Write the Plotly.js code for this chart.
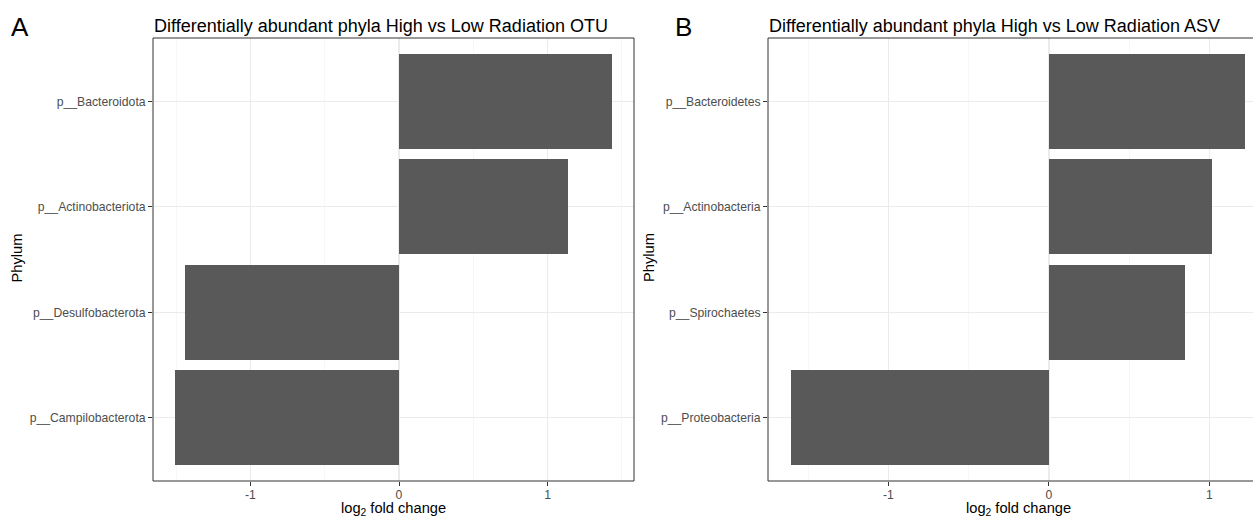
<!DOCTYPE html>
<html>
<head>
<meta charset="utf-8">
<script src="https://cdn.plot.ly/plotly-3.0.1.min.js"></script>
<style>html,body{margin:0;padding:0;overflow:hidden;background:#fff;}</style>
</head>
<body>
<div id="chart" style="width:1253px;height:518px;"></div>
<script>
// Panel A (OTU)
const phylaA = ['p__Campilobacterota', 'p__Desulfobacterota', 'p__Actinobacteriota', 'p__Bacteroidota'];
const lfcA = [-1.508, -1.441, 1.138, 1.434];
// Panel B (ASV)
const phylaB = ['p__Proteobacteria', 'p__Spirochaetes', 'p__Actinobacteria', 'p__Bacteroidetes'];
const lfcB = [-1.609, 0.847, 1.016, 1.221];
const xTicks = [-1, 0, 1];
const titleA = 'Differentially abundant phyla High vs Low Radiation OTU';
const titleB = 'Differentially abundant phyla High vs Low Radiation ASV';

const W = 1253, H = 518;
const FONT = 'Liberation Sans, Arial, sans-serif';
const px = v => v / W;
const py = v => 1 - v / H;

const barColor = '#595959';
const traces = [
  {type: 'bar', orientation: 'h', x: lfcA, y: phylaA, xaxis: 'x', yaxis: 'y',
   width: 0.9, marker: {color: barColor, line: {width: 0}}, hoverinfo: 'x+y'},
  {type: 'bar', orientation: 'h', x: lfcB, y: phylaB, xaxis: 'x2', yaxis: 'y2',
   width: 0.9, marker: {color: barColor, line: {width: 0}}, hoverinfo: 'x+y'}
];

function xax(domain, range) {
  return {
    domain: domain, range: range, tickvals: xTicks, ticktext: xTicks.map(String),
    showgrid: true, gridcolor: '#EBEBEB', gridwidth: 1.1, zeroline: false,
    minor: {dtick: 0.5, tick0: 0, showgrid: true, gridcolor: '#F2F2F2', gridwidth: 0.6, ticks: ''},
    ticks: 'outside', ticklen: 4, tickcolor: '#333333', tickwidth: 1,
    ticklabelstandoff: -2,
    tickfont: {family: FONT, size: 12.2, color: '#4D4D4D'},
    showline: false, fixedrange: true
  };
}
function yax(domain, cats, anchor) {
  return {
    domain: domain, type: 'category', categoryorder: 'array', categoryarray: cats,
    range: [-0.6, 3.6], anchor: anchor,
    showgrid: true, gridcolor: '#EBEBEB', gridwidth: 1.1, zeroline: false,
    ticks: 'outside', ticklen: 4, tickcolor: '#333333', tickwidth: 1,
    tickfont: {family: FONT, size: 12.2, color: '#4D4D4D'},
    showline: false, fixedrange: true
  };
}

const yDom = [py(481), py(38)];
const xDomA = [px(153), px(634)];
const xDomB = [px(768), 1];

const layout = {
  width: W, height: H, autosize: false,
  margin: {l: 0, r: 0, t: 0, b: 0, pad: 0},
  paper_bgcolor: '#ffffff', plot_bgcolor: '#ffffff',
  showlegend: false, bargap: 0,
  font: {family: FONT},
  xaxis: Object.assign(xax(xDomA, [-1.6551, 1.5811]), {anchor: 'y'}),
  yaxis: yax(yDom, phylaA, 'x'),
  xaxis2: Object.assign(xax(xDomB, [-1.7505, 1.2713]), {anchor: 'y2'}),
  yaxis2: yax(yDom, phylaB, 'x2'),
  shapes: [
    {type: 'rect', xref: 'x domain', yref: 'y domain', x0: 0, x1: 1, y0: 0, y1: 1,
     line: {color: '#333333', width: 1}, fillcolor: 'rgba(0,0,0,0)', layer: 'above'},
    {type: 'path', xref: 'x2 domain', yref: 'y2 domain', path: 'M 1.01 0 L 0 0 L 0 1 L 1.01 1',
     line: {color: '#333333', width: 1}, fillcolor: 'rgba(0,0,0,0)', layer: 'above'}
  ],
  annotations: [
    {text: titleA, xref: 'paper', yref: 'paper', x: px(152), y: py(26), xanchor: 'left', yanchor: 'middle',
     showarrow: false, font: {family: FONT, size: 18, color: '#000000'}},
    {text: titleB, xref: 'paper', yref: 'paper', x: px(767), y: py(26), xanchor: 'left', yanchor: 'middle',
     showarrow: false, font: {family: FONT, size: 18, color: '#000000'}},
    {text: 'A', xref: 'paper', yref: 'paper', x: px(20), y: py(27), xanchor: 'center', yanchor: 'middle',
     showarrow: false, font: {family: FONT, size: 26, color: '#000000'}},
    {text: 'B', xref: 'paper', yref: 'paper', x: px(683), y: py(27), xanchor: 'center', yanchor: 'middle',
     showarrow: false, font: {family: FONT, size: 26, color: '#000000'}},
    {text: 'log<sub>2</sub> fold change', xref: 'paper', yref: 'paper', x: px(393.5), y: py(509), xanchor: 'center', yanchor: 'middle',
     showarrow: false, font: {family: FONT, size: 14.67, color: '#000000'}},
    {text: 'log<sub>2</sub> fold change', xref: 'paper', yref: 'paper', x: px(1018), y: py(509), xanchor: 'center', yanchor: 'middle',
     showarrow: false, font: {family: FONT, size: 14.67, color: '#000000'}},
    {text: 'Phylum', xref: 'paper', yref: 'paper', x: px(16.5), y: py(258), xanchor: 'center', yanchor: 'middle',
     textangle: -90, showarrow: false, font: {family: FONT, size: 14.67, color: '#000000'}},
    {text: 'Phylum', xref: 'paper', yref: 'paper', x: px(649), y: py(258), xanchor: 'center', yanchor: 'middle',
     textangle: -90, showarrow: false, font: {family: FONT, size: 14.67, color: '#000000'}}
  ]
};

Plotly.newPlot('chart', traces, layout, {displayModeBar: false, staticPlot: true});
</script>
</body>
</html>
